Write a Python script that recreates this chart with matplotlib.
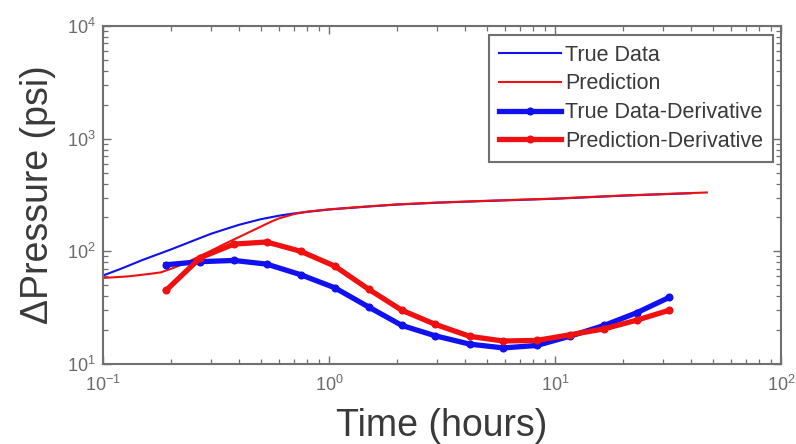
import matplotlib
matplotlib.use("Agg")
import matplotlib.pyplot as plt
from matplotlib.ticker import LogLocator, LogFormatterSciNotation, NullFormatter

plt.rcParams['font.family'] = ['Liberation Sans', 'DejaVu Sans']
plt.rcParams['mathtext.default'] = 'regular'

# Pressure change curves (hours, psi)
t_true = [0.1, 0.12, 0.15, 0.2, 0.25, 0.3, 0.35, 0.4, 0.5, 0.6, 0.7, 0.8, 1.0,
          1.5, 2.0, 3.0, 5.0, 10.0, 20.0, 40.0]
p_true = [61, 70, 84, 104, 124, 143, 158, 172, 193, 207, 217, 224, 235,
          250, 260, 270, 280, 293, 312, 328]

t_pred = [0.1, 0.13, 0.16, 0.18, 0.2, 0.23, 0.26, 0.3, 0.35, 0.4, 0.45, 0.5, 0.55,
          0.6, 0.7, 0.8, 1.0, 1.5, 2.0, 3.0, 5.0, 10.0, 20.0, 47.0]
p_pred = [58, 60, 63, 65, 70, 78, 88, 101, 118, 134, 150, 166, 182,
          196, 214, 225, 236, 251, 261, 271, 281, 294, 313, 333]

# Pressure derivative curves
t_deriv = [0.19, 0.27, 0.38, 0.53, 0.75, 1.06, 1.5, 2.1, 2.95, 4.2, 5.9, 8.3, 11.7, 16.5, 23.0, 32.0]
d_true = [76, 81, 83, 77, 62, 47.5, 32, 22, 17.8, 15, 13.9, 14.6, 17.7, 22, 28.5, 39]
d_pred = [45, 88, 116, 121, 100, 74, 46, 30, 22.5, 17.6, 16, 16.2, 18.2, 20.5, 24.5, 30]

labels = ["True Data", "Prediction", "True Data-Derivative", "Prediction-Derivative"]

fig = plt.figure(figsize=(7.96, 4.44), dpi=100)
ax = fig.add_axes([103 / 796, 80 / 444, 678 / 796, 338 / 444])

blue = "#1010f0"
red = "#f01010"
ax.plot(t_true, p_true, color=blue, lw=1.5, label=labels[0])
ax.plot(t_pred, p_pred, color=red, lw=1.5, label=labels[1])
ax.plot(t_deriv, d_true, color=blue, lw=3.8, marker='o', ms=4.8, label=labels[2])
ax.plot(t_deriv, d_pred, color=red, lw=3.8, marker='o', ms=4.8, label=labels[3])

ax.set_xscale('log')
ax.set_yscale('log')
ax.set_xlim(0.1, 100)
ax.set_ylim(10, 10000)

grey = "#707070"
for s in ax.spines.values():
    s.set_color(grey)
    s.set_linewidth(1.5)

ax.xaxis.set_major_locator(LogLocator(base=10, numticks=10))
ax.yaxis.set_major_locator(LogLocator(base=10, numticks=10))
ax.xaxis.set_minor_locator(LogLocator(base=10, subs=range(2, 10), numticks=20))
ax.yaxis.set_minor_locator(LogLocator(base=10, subs=range(2, 10), numticks=20))
ax.xaxis.set_major_formatter(LogFormatterSciNotation())
ax.yaxis.set_major_formatter(LogFormatterSciNotation())
ax.xaxis.set_minor_formatter(NullFormatter())
ax.yaxis.set_minor_formatter(NullFormatter())

ax.tick_params(which='both', direction='in', top=True, right=True, color=grey)
ax.tick_params(which='major', length=6, width=1.0)
ax.tick_params(which='minor', length=3.5, width=0.9)
ax.tick_params(axis='both', which='major', labelsize=13, labelcolor="#6a6a6a")
ax.tick_params(axis='x', which='major', pad=8)
ax.tick_params(axis='y', which='major', pad=5)

ax.set_xlabel("Time (hours)", fontsize=27, color="#3a3a3a", labelpad=9)
ax.set_ylabel("\u0394Pressure (psi)", fontsize=27, color="#3a3a3a", labelpad=8)

leg = ax.legend(loc='upper right', bbox_to_anchor=(773 / 796, 409 / 444),
                bbox_transform=fig.transFigure, borderaxespad=0,
                fontsize=15.5, handlelength=2.9, handletextpad=0.2,
                labelspacing=0.36, borderpad=0.45, fancybox=False,
                framealpha=1, edgecolor=grey)
leg.get_frame().set_linewidth(1.5)
for txt in leg.get_texts():
    txt.set_color("#3a3a3a")

fig.savefig("out.png", dpi=100)
